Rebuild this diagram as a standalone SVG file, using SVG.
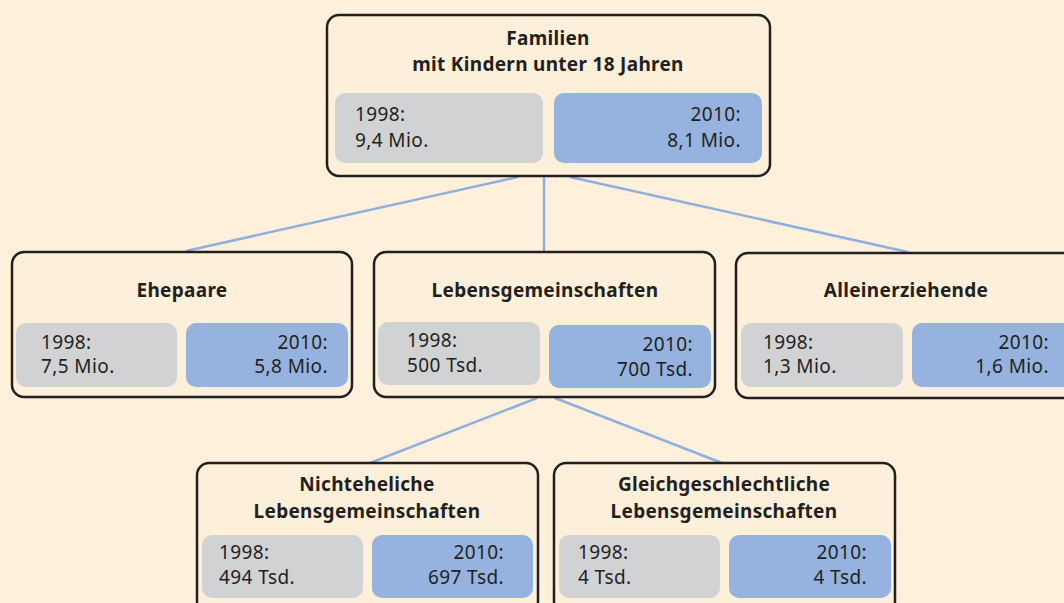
<svg xmlns="http://www.w3.org/2000/svg" width="1064" height="603" viewBox="0 0 1064 603">
<style>
.node{fill:#fdf0da;stroke:#231f20;stroke-width:2.5}
.g{fill:#d1d2d4}
.b{fill:#95b3de}
.t{font-family:"Noto Sans","Open Sans",sans-serif;font-weight:bold;font-size:19px;letter-spacing:0.3px;fill:#231f20;text-anchor:middle}
.v{font-family:"Noto Sans","Open Sans",sans-serif;font-size:19px;letter-spacing:0.4px;fill:#231f20}
.r{text-anchor:end}
.c{stroke:#8fb0dc;stroke-width:2.5;fill:none}
</style>
<rect width="1064" height="603" fill="#fef0da"/>
<g id="connectors">
<line class="c" x1="518" y1="177" x2="186" y2="251"/>
<line class="c" x1="544" y1="177" x2="544" y2="252"/>
<line class="c" x1="570" y1="177" x2="908" y2="252"/>
<line class="c" x1="537" y1="398" x2="370" y2="463"/>
<line class="c" x1="555" y1="398" x2="722" y2="463"/>
</g>
<g id="familien">
<rect class="node" x="327" y="15" width="443" height="161" rx="12"/>
<text class="t" x="548" y="45">Familien</text>
<text class="t" x="548" y="71">mit Kindern unter 18 Jahren</text>
<rect class="g" x="335" y="93" width="208" height="70" rx="10"/>
<rect class="b" x="554" y="93" width="208" height="70" rx="10"/>
<text class="v" x="355" y="121">1998:</text>
<text class="v" x="355" y="147">9,4 Mio.</text>
<text class="v r" x="741" y="121">2010:</text>
<text class="v r" x="741" y="147">8,1 Mio.</text>
</g>
<g id="ehepaare">
<rect class="node" x="12" y="252" width="340" height="145" rx="12"/>
<text class="t" x="182" y="297">Ehepaare</text>
<rect class="g" x="16" y="323" width="161" height="64" rx="10"/>
<rect class="b" x="186" y="323" width="162" height="64" rx="10"/>
<text class="v" x="41" y="349">1998:</text>
<text class="v" x="41" y="373">7,5 Mio.</text>
<text class="v r" x="328" y="349">2010:</text>
<text class="v r" x="328" y="373">5,8 Mio.</text>
</g>
<g id="lebensgemeinschaften">
<rect class="node" x="374" y="252" width="341" height="145" rx="12"/>
<text class="t" x="545" y="297">Lebensgemeinschaften</text>
<rect class="g" x="378" y="322" width="162" height="63" rx="10"/>
<rect class="b" x="549" y="325" width="162" height="63" rx="10"/>
<text class="v" x="407" y="347">1998:</text>
<text class="v" x="407" y="372">500 Tsd.</text>
<text class="v r" x="693" y="351">2010:</text>
<text class="v r" x="693" y="376">700 Tsd.</text>
</g>
<g id="alleinerziehende">
<rect class="node" x="736" y="253" width="340" height="145" rx="12"/>
<text class="t" x="906" y="297">Alleinerziehende</text>
<rect class="g" x="741" y="323" width="162" height="64" rx="10"/>
<rect class="b" x="912" y="323" width="162" height="64" rx="10"/>
<text class="v" x="763" y="349">1998:</text>
<text class="v" x="763" y="373">1,3 Mio.</text>
<text class="v r" x="1049" y="349">2010:</text>
<text class="v r" x="1049" y="373">1,6 Mio.</text>
</g>
<g id="nichteheliche">
<rect class="node" x="197" y="463" width="341" height="150" rx="12"/>
<text class="t" x="367" y="491">Nichteheliche</text>
<text class="t" x="367" y="518">Lebensgemeinschaften</text>
<rect class="g" x="202" y="535" width="161" height="63" rx="10"/>
<rect class="b" x="372" y="535" width="161" height="63" rx="10"/>
<text class="v" x="219" y="559">1998:</text>
<text class="v" x="219" y="584">494 Tsd.</text>
<text class="v r" x="504" y="559">2010:</text>
<text class="v r" x="504" y="584">697 Tsd.</text>
</g>
<g id="gleichgeschlechtliche">
<rect class="node" x="554" y="463" width="341" height="150" rx="12"/>
<text class="t" x="724" y="491">Gleichgeschlechtliche</text>
<text class="t" x="724" y="518">Lebensgemeinschaften</text>
<rect class="g" x="559" y="535" width="161" height="63" rx="10"/>
<rect class="b" x="729" y="535" width="162" height="63" rx="10"/>
<text class="v" x="578" y="559">1998:</text>
<text class="v" x="578" y="584">4 Tsd.</text>
<text class="v r" x="867" y="559">2010:</text>
<text class="v r" x="867" y="584">4 Tsd.</text>
</g>
</svg>
